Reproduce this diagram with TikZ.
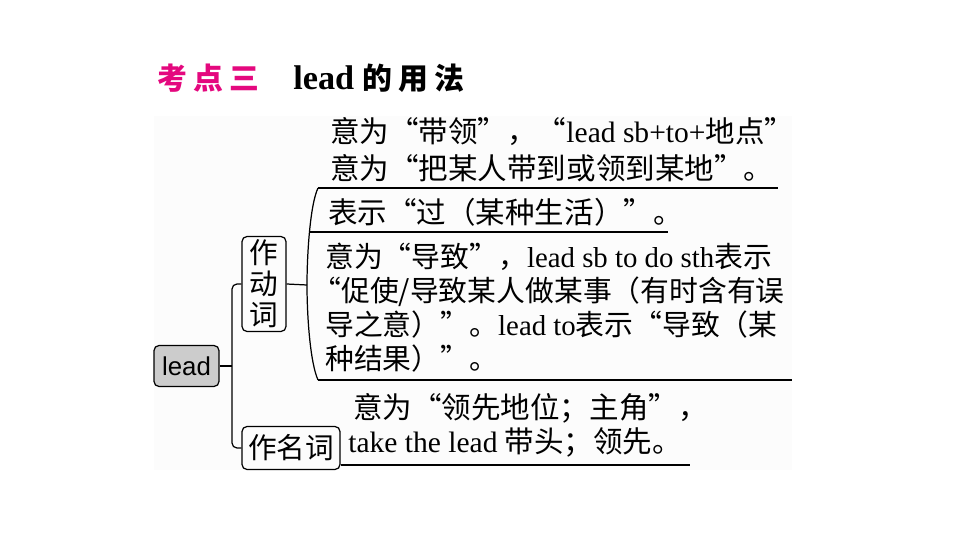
\documentclass[tikz,border=0pt]{standalone}
\usepackage{fontspec}
\setmainfont{Liberation Serif}
\setsansfont{Liberation Sans}
\newfontfamily\cjk{Noto Sans CJK SC}
\newfontfamily\cjktitle[LetterSpace=20]{Noto Sans CJK SC}
\usetikzlibrary{positioning,calc}
\definecolor{figMagenta}{HTML}{E4087E}
\definecolor{figPanel}{HTML}{FCFCFC}
\definecolor{figKey}{HTML}{CCCCCC}
\newcommand{\zh}[1]{{\cjk #1}}

\begin{document}
\begin{tikzpicture}[
  x=0.02cm, y=-0.02cm,
  branch/.style={line width=0.7pt, draw=black},
  pos box/.style={draw, line width=0.7pt, rounded corners=1mm, inner sep=0pt,
    align=center, font=\cjk\fontsize{16.3}{17.6}\selectfont},
  key box/.style={draw, line width=0.7pt, rounded corners=1mm, fill=figKey,
    minimum width=13mm, minimum height=8.2mm, inner sep=0pt,
    font=\sffamily\fontsize{14.7}{16}\selectfont},
  sense/.style={anchor=west, inner sep=0pt, align=left,
    font=\fontsize{16.8}{19.3}\selectfont},
  title node/.style={anchor=west, inner sep=0pt, font=\bfseries},
]
\useasboundingbox (0,0) rectangle (960,540);
\fill[figPanel] (154,116) rectangle (792,470);

% title
\node[title node, text=figMagenta] (tnum) at (157,78)
  {\cjktitle\fontsize{17}{20}\selectfont 考点三};
\node[title node] (ttopic) at (293,78)
  {\fontsize{19.5}{22}\selectfont lead {\cjktitle\fontsize{17}{20}\selectfont 的用法}};

% keyword and parts of speech
\node[key box] (lead) at (186.5,366) {lead};
\node[pos box, minimum width=8.8mm, minimum height=19mm] (verb) at (264,284) {作\\动\\词};
\node[pos box, minimum width=19.6mm, minimum height=8.6mm] (noun) at (291,448) {作名词};
\coordinate (hub) at (232,366);
\draw[branch] (lead.east) -- (hub);
\draw[branch, rounded corners=1mm] (verb.west) -| (hub) |- (noun.west);

% verb senses
\coordinate (brtop) at (318,188);
\coordinate (brmid) at (307,285);
\coordinate (brbot) at (318,380);
\draw[branch] (verb.east) -- (brmid);
\draw[branch] (brtop) .. controls (310,205) and (307,255) .. (brmid)
  .. controls (307,315) and (310,362) .. (brbot);
\draw[branch] (brtop) -- (778,188);
\draw[branch] (309.5,232) -- (668,232);
\draw[branch] (brbot) -- (792,380);

\node[sense, font=\fontsize{16.8}{21}\selectfont] (sense1) at (330,150)
  {\zh{意为“带领”，“}lead sb+to+\zh{地点”}\\
   \zh{意为“把某人带到或领到某地”。}};
\node[sense] (sense2) at (328,212) {\zh{表示“过（某种生活）”。}};
\node[sense, font=\fontsize{16.4}{19.3}\selectfont] (sense3) at (325,308)
  {\zh{意为“导致”，}lead sb to do sth\zh{表示}\\
   \hspace*{-0.45em}\zh{“促使/导致某人做某事（有时含有误}\\
   \zh{导之意）”。}lead to\zh{表示“导致（某}\\
   \zh{种结果）”。}};

% noun sense
\coordinate (nend) at (690,465);
\draw[branch] (noun.east |- nend) -- (nend);
\node[sense] (sense4) at (348,425)
  {\hspace{1mm}\zh{意为“领先地位；主角”，}\\
   take the lead \zh{带头；领先。}};
\end{tikzpicture}
\end{document}
